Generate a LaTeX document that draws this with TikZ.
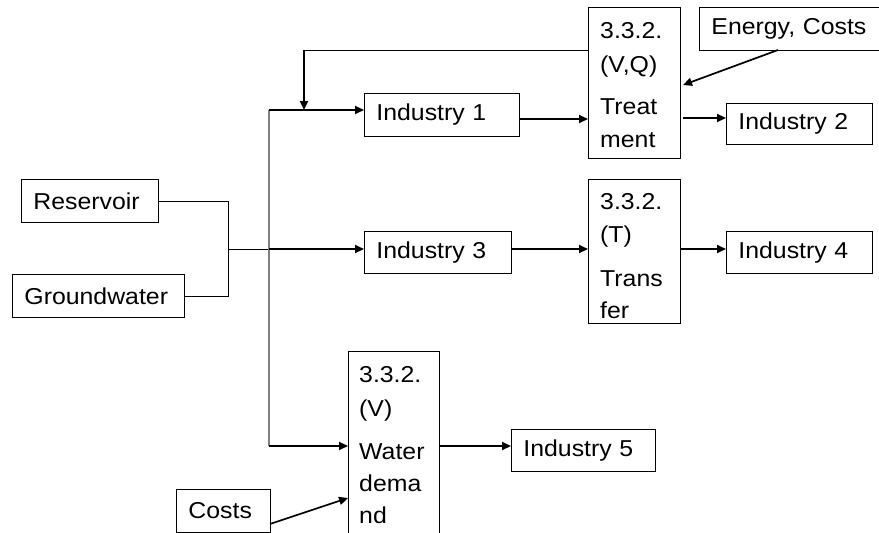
\documentclass[tikz,border=0pt]{standalone}
\usepackage{fontspec}
\setmainfont{Liberation Sans}[FakeStretch=1.08]
\usetikzlibrary{arrows.meta,calc}
\newcommand\fsz{\fontsize{23}{33}\selectfont}
\begin{document}
\begin{tikzpicture}[x=1pt,y=-1pt,
  box/.style={draw, line width=0.9pt, anchor=north west, inner xsep=12pt, inner ysep=0pt, minimum height=43pt, align=left, font=\fsz},
  tall/.style={draw, line width=0.9pt, anchor=north west, inner sep=0pt, minimum width=92pt},
  lbl/.style={anchor=base west, inner sep=0pt, font=\fsz},
  thk/.style={line width=2pt, -{Triangle[length=9pt,width=8pt]}},
  thkd/.style={line width=1.7pt, -{Triangle[length=9pt,width=8pt]}},
  thn/.style={line width=0.9pt},
  spine/.style={line width=1.2pt, draw=gray}]
\useasboundingbox (0,0) rectangle (879,533);
\clip (0,0) rectangle (879,533);

% boxes
\node[box, text width=131pt] (ind1) at (364,93) {Industry 1};
\node[box, text width=122pt, minimum height=41pt] (ind2) at (726,103) {Industry 2};
\node[box, text width=123pt, minimum height=42pt] (ind3) at (364,231) {Industry 3};
\node[box, text width=122pt, minimum height=42pt] (ind4) at (726,231) {Industry 4};
\node[box, text width=120pt, minimum height=42pt] (ind5) at (511,429) {Industry 5};
\node[box, text width=113pt] (res) at (21,179) {Reservoir};
\node[box, text width=148pt] (gw) at (12,274) {Groundwater};
\node[box, text width=70pt] (costs) at (176,489) {Costs};
\node[box, text width=164pt] (ener) at (699,7) {Energy, Costs};

% tall boxes
\node[tall, minimum height=151pt] (treat) at (588,7) {};
\node[lbl] (treat1) at (600,38) {3.3.2.};
\node[lbl] (treat2) at (600,72) {(V,Q)};
\node[lbl] (treat3) at (600,114) {Treat};
\node[lbl] (treat4) at (600,147) {ment};

\node[tall, minimum height=144pt] (trans) at (588,179) {};
\node[lbl] (trans1) at (600,209) {3.3.2.};
\node[lbl] (trans2) at (600,242) {(T)};
\node[lbl] (trans3) at (600,286) {Trans};
\node[lbl] (trans4) at (600,318) {fer};

\node[tall, minimum width=91pt, minimum height=220pt] (wd) at (348,351) {};
\node[lbl] (wd1) at (359,382) {3.3.2.};
\node[lbl] (wd2) at (359,416) {(V)};
\node[lbl] (wd3) at (359,459) {Water};
\node[lbl] (wd4) at (359,491) {dema};
\node[lbl] (wd5) at (359,523) {nd};

% junction coordinates
\coordinate (sp1) at (269,110);
\coordinate (sp2) at (269,249);
\coordinate (sp3) at (269,446);
\coordinate (jx) at (228,249);
\coordinate (fb) at (304,50);
\coordinate (fbe) at (304,110);
\coordinate (a1) at (519,119);
\coordinate (a2) at (683,118);
\coordinate (e1) at (778,50);
\coordinate (e2) at (683,85);
\coordinate (c1) at (270,524);
\coordinate (c2) at (348,498);

% source lines
\draw[thn] (res.east) -- (res.east -| jx) -- (gw.east -| jx) -- (gw.east);
\draw[thn] (jx) -- (sp2);
\draw[spine] (sp1) -- (sp3);

% feedback
\draw[thn] (treat.west |- fb) -- (fb);
\draw[thk] (fb) -- (fbe);

% flows
\draw[thk] (sp1) -- (ind1.west |- sp1);
\draw[thk] (a1) -- (treat.west |- a1);
\draw[thk] (a2) -- (ind2.west |- a2);
\draw[thkd] (e1) -- (e2);
\draw[thk] (sp2) -- (ind3.west |- sp2);
\draw[thk] (ind3.east |- sp2) -- (trans.west |- sp2);
\draw[thk] (trans.east |- sp2) -- (ind4.west |- sp2);
\draw[thk] (sp3) -- (wd.west |- sp3);
\draw[thk] (wd.east |- sp3) -- (ind5.west |- sp3);
\draw[thkd] (c1) -- (c2);
\end{tikzpicture}
\end{document}
